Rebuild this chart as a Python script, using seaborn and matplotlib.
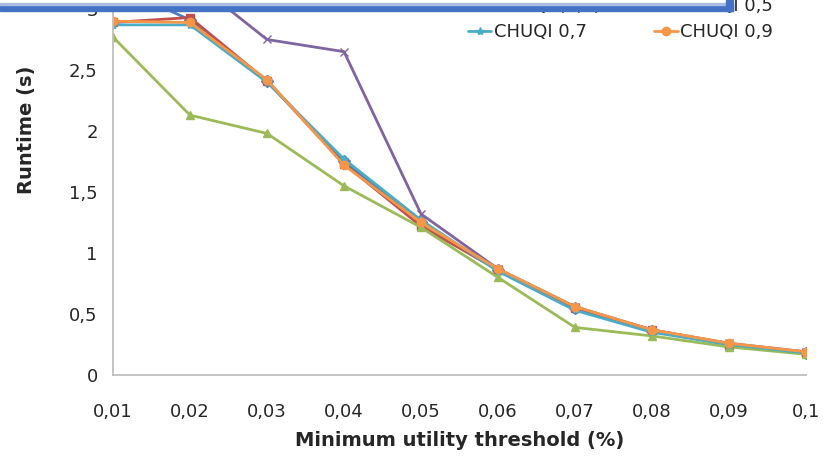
import matplotlib
matplotlib.use("Agg")
import matplotlib.pyplot as plt
from matplotlib.patches import Rectangle
import seaborn as sns
import pandas as pd

thresholds = [0.01, 0.02, 0.03, 0.04, 0.05, 0.06, 0.07, 0.08, 0.09, 0.10]
x_tick_labels = ["0,01", "0,02", "0,03", "0,04", "0,05", "0,06", "0,07", "0,08", "0,09", "0,1"]
y_ticks = [0, 0.5, 1, 1.5, 2, 2.5, 3]
y_tick_labels = ["0", "0,5", "1", "1,5", "2", "2,5", "3"]

series_names = ["CHUQI 0,1", "CHUQI 0,3", "CHUQI (0,1)", "CHUQI 0,5", "CHUQI 0,7", "CHUQI 0,9"]
s_blue = [3.20, 2.91, 2.41, 1.75, 1.25, 0.86, 0.55, 0.36, 0.25, 0.18]
s_red = [2.89, 2.93, 2.41, 1.73, 1.22, 0.86, 0.55, 0.37, 0.25, 0.18]
s_green = [2.77, 2.13, 1.98, 1.55, 1.21, 0.80, 0.39, 0.32, 0.23, 0.17]
s_purple = [3.40, 3.25, 2.75, 2.65, 1.32, 0.87, 0.56, 0.37, 0.26, 0.19]
s_cyan = [2.87, 2.87, 2.40, 1.77, 1.27, 0.85, 0.53, 0.35, 0.25, 0.18]
s_orange = [2.90, 2.89, 2.42, 1.72, 1.25, 0.87, 0.56, 0.37, 0.26, 0.19]
all_series = [s_blue, s_red, s_green, s_purple, s_cyan, s_orange]

colors = ["#4F81BD", "#C0504D", "#9BBB59", "#8064A2", "#4BACC6", "#F79646"]
marker_list = ["D", "s", "^", "x", "*", "o"]

sns.set_style("white")
plt.rcParams["font.family"] = ["DejaVu Sans"]

fig = plt.figure(figsize=(8.37, 4.62), dpi=100)
ax = fig.add_axes([113 / 837, 1 - 375 / 462, (806 - 113) / 837, 375 / 462])

for name, vals, c, m in zip(series_names, all_series, colors, marker_list):
    d = pd.DataFrame({"threshold": thresholds, "runtime": vals})
    sns.lineplot(data=d, x="threshold", y="runtime", color=c, marker=m,
                 linewidth=2.0, markersize=6, markeredgewidth=1.0,
                 markeredgecolor=c, label=name, ax=ax)

ax.set_xlim(0.01, 0.10)
ax.set_ylim(0, 3 + 9 / 122)
ax.set_xticks(thresholds)
ax.set_xticklabels(x_tick_labels, fontsize=13)
ax.set_yticks(y_ticks)
ax.set_yticklabels(y_tick_labels, fontsize=13)
ax.tick_params(axis="x", direction="out", length=8, width=1, color="#BFBFBF", pad=12)
ax.tick_params(axis="y", direction="out", length=5, width=1, color="#BFBFBF", pad=6)
for side in ["top", "right"]:
    ax.spines[side].set_visible(False)
for side in ["left", "bottom"]:
    ax.spines[side].set_color("#BFBFBF")
    ax.spines[side].set_linewidth(1.3)
ax.set_xlabel("Minimum utility threshold (%)", fontsize=14, fontweight="bold", labelpad=7)
ax.set_ylabel("Runtime (s)", fontsize=14, fontweight="bold")
ax.yaxis.set_label_coords((36 - 113) / 693, (375 - 130) / 375)

handles, labels = ax.get_legend_handles_labels()
ax.get_legend().remove()
order = [0, 2, 4, 1, 3, 5]
fig.legend([handles[i] for i in order], [labels[i] for i in order], ncol=2,
           loc="lower left", bbox_to_anchor=(459 / 837, 1 - 50 / 462), frameon=False,
           fontsize=13, handlelength=1.3, handletextpad=0.15,
           columnspacing=2.95, labelspacing=0.45, borderpad=0)

# selection frame overlay at top
fig.patches.append(Rectangle((0, 1 - 4 / 462), 727 / 837, 4 / 462,
                             transform=fig.transFigure, color="white", zorder=9))
fig.patches.append(Rectangle((0, 1 - 11 / 462), 733 / 837, 7 / 462,
                             transform=fig.transFigure, color="#4472C4", zorder=10))
fig.patches.append(Rectangle((0, 1 - 4.5 / 462), 727 / 837, 1.5 / 462,
                             transform=fig.transFigure, color="#A9BDE3", zorder=10))
fig.patches.append(Rectangle((726 / 837, 1 - 11 / 462), 7 / 837, 11 / 462,
                             transform=fig.transFigure, color="#4472C4", zorder=10))

fig.savefig("out.png", dpi=100)
